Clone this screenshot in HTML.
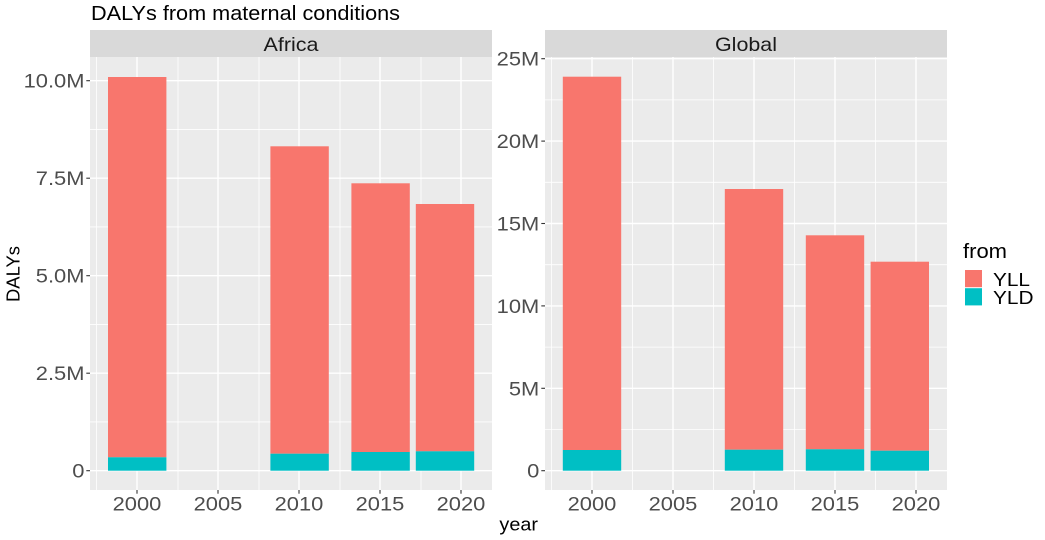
<!DOCTYPE html>
<html>
<head>
<meta charset="utf-8">
<style>
  html,body{margin:0;padding:0;background:#fff;}
  svg{display:block;}
  text{font-family:"Liberation Sans",Arial,sans-serif;}
</style>
</head>
<body>
<svg width="1045" height="540" viewBox="0 0 1045 540" xmlns="http://www.w3.org/2000/svg">
  <rect x="0" y="0" width="1045" height="540" fill="#ffffff"/>

  <!-- Title -->
  <text x="91" y="20" font-size="20" fill="#000" textLength="309" lengthAdjust="spacingAndGlyphs">DALYs from maternal conditions</text>

  <!-- ============ LEFT PANEL (Africa) ============ -->
  <rect x="90" y="30" width="402" height="27" fill="#D9D9D9"/>
  <text x="291" y="51" font-size="19.5" fill="#1A1A1A" text-anchor="middle" textLength="55" lengthAdjust="spacingAndGlyphs">Africa</text>
  <rect x="90" y="57" width="402" height="433" fill="#EBEBEB"/>
  <!-- minor grid -->
  <g stroke="#ffffff" stroke-width="0.8">
    <line x1="90" x2="492" y1="421.95" y2="421.95"/>
    <line x1="90" x2="492" y1="324.45" y2="324.45"/>
    <line x1="90" x2="492" y1="226.95" y2="226.95"/>
    <line x1="90" x2="492" y1="129.45" y2="129.45"/>
    <line x1="96.5" x2="96.5" y1="57" y2="490"/>
    <line x1="178" x2="178" y1="57" y2="490"/>
    <line x1="259" x2="259" y1="57" y2="490"/>
    <line x1="340" x2="340" y1="57" y2="490"/>
    <line x1="421" x2="421" y1="57" y2="490"/>
  </g>
  <!-- major grid -->
  <g stroke="#ffffff" stroke-width="1.4">
    <line x1="90" x2="492" y1="470.7" y2="470.7"/>
    <line x1="90" x2="492" y1="373.2" y2="373.2"/>
    <line x1="90" x2="492" y1="275.7" y2="275.7"/>
    <line x1="90" x2="492" y1="178.2" y2="178.2"/>
    <line x1="90" x2="492" y1="80.7" y2="80.7"/>
    <line x1="137" x2="137" y1="57" y2="490"/>
    <line x1="218" x2="218" y1="57" y2="490"/>
    <line x1="299" x2="299" y1="57" y2="490"/>
    <line x1="380" x2="380" y1="57" y2="490"/>
    <line x1="461" x2="461" y1="57" y2="490"/>
  </g>
  <!-- bars -->
  <g>
    <rect x="108" y="77" width="58.4" height="380.3" fill="#F8766D"/>
    <rect x="108" y="457.3" width="58.4" height="13.4" fill="#00BFC4"/>
    <rect x="270.4" y="146.3" width="58.4" height="307.4" fill="#F8766D"/>
    <rect x="270.4" y="453.7" width="58.4" height="17" fill="#00BFC4"/>
    <rect x="351.4" y="183.3" width="58.4" height="268.7" fill="#F8766D"/>
    <rect x="351.4" y="452" width="58.4" height="18.7" fill="#00BFC4"/>
    <rect x="415.8" y="204" width="58.4" height="247.3" fill="#F8766D"/>
    <rect x="415.8" y="451.3" width="58.4" height="19.4" fill="#00BFC4"/>
  </g>
  <!-- y ticks -->
  <g stroke="#333333" stroke-width="1.1">
    <line x1="86.3" x2="90" y1="470.7" y2="470.7"/>
    <line x1="86.3" x2="90" y1="373.2" y2="373.2"/>
    <line x1="86.3" x2="90" y1="275.7" y2="275.7"/>
    <line x1="86.3" x2="90" y1="178.2" y2="178.2"/>
    <line x1="86.3" x2="90" y1="80.7" y2="80.7"/>
    <line x1="137" x2="137" y1="490" y2="493.7"/>
    <line x1="218" x2="218" y1="490" y2="493.7"/>
    <line x1="299" x2="299" y1="490" y2="493.7"/>
    <line x1="380" x2="380" y1="490" y2="493.7"/>
    <line x1="461" x2="461" y1="490" y2="493.7"/>
  </g>
  <g font-size="19.5" fill="#4D4D4D" text-anchor="end">
    <text x="84.5" y="477.7" textLength="12.2" lengthAdjust="spacingAndGlyphs">0</text>
    <text x="84.5" y="380.2" textLength="48.7" lengthAdjust="spacingAndGlyphs">2.5M</text>
    <text x="84.5" y="282.7" textLength="48.7" lengthAdjust="spacingAndGlyphs">5.0M</text>
    <text x="84.5" y="185.2" textLength="48.7" lengthAdjust="spacingAndGlyphs">7.5M</text>
    <text x="84.5" y="87.7" textLength="60.9" lengthAdjust="spacingAndGlyphs">10.0M</text>
  </g>
  <g font-size="19.5" fill="#4D4D4D" text-anchor="middle">
    <text x="137" y="510.5" textLength="48.7" lengthAdjust="spacingAndGlyphs">2000</text>
    <text x="218" y="510.5" textLength="48.7" lengthAdjust="spacingAndGlyphs">2005</text>
    <text x="299" y="510.5" textLength="48.7" lengthAdjust="spacingAndGlyphs">2010</text>
    <text x="380" y="510.5" textLength="48.7" lengthAdjust="spacingAndGlyphs">2015</text>
    <text x="461" y="510.5" textLength="48.7" lengthAdjust="spacingAndGlyphs">2020</text>
  </g>

  <!-- ============ RIGHT PANEL (Global) ============ -->
  <rect x="545" y="30" width="402" height="27" fill="#D9D9D9"/>
  <text x="746" y="51" font-size="19.5" fill="#1A1A1A" text-anchor="middle" textLength="62" lengthAdjust="spacingAndGlyphs">Global</text>
  <rect x="545" y="57" width="402" height="433" fill="#EBEBEB"/>
  <g stroke="#ffffff" stroke-width="0.8">
    <line x1="545" x2="947" y1="429.5" y2="429.5"/>
    <line x1="545" x2="947" y1="347.1" y2="347.1"/>
    <line x1="545" x2="947" y1="264.7" y2="264.7"/>
    <line x1="545" x2="947" y1="182.3" y2="182.3"/>
    <line x1="545" x2="947" y1="99.9" y2="99.9"/>
    <line x1="551.5" x2="551.5" y1="57" y2="490"/>
    <line x1="632.5" x2="632.5" y1="57" y2="490"/>
    <line x1="713.5" x2="713.5" y1="57" y2="490"/>
    <line x1="794.5" x2="794.5" y1="57" y2="490"/>
    <line x1="875.5" x2="875.5" y1="57" y2="490"/>
  </g>
  <g stroke="#ffffff" stroke-width="1.4">
    <line x1="545" x2="947" y1="470.7" y2="470.7"/>
    <line x1="545" x2="947" y1="388.3" y2="388.3"/>
    <line x1="545" x2="947" y1="305.9" y2="305.9"/>
    <line x1="545" x2="947" y1="223.5" y2="223.5"/>
    <line x1="545" x2="947" y1="141.1" y2="141.1"/>
    <line x1="545" x2="947" y1="58.7" y2="58.7"/>
    <line x1="592" x2="592" y1="57" y2="490"/>
    <line x1="673" x2="673" y1="57" y2="490"/>
    <line x1="754" x2="754" y1="57" y2="490"/>
    <line x1="835" x2="835" y1="57" y2="490"/>
    <line x1="916" x2="916" y1="57" y2="490"/>
  </g>
  <g>
    <rect x="562.8" y="76.7" width="58.4" height="373.3" fill="#F8766D"/>
    <rect x="562.8" y="450" width="58.4" height="20.7" fill="#00BFC4"/>
    <rect x="724.8" y="189" width="58.4" height="260.7" fill="#F8766D"/>
    <rect x="724.8" y="449.7" width="58.4" height="21" fill="#00BFC4"/>
    <rect x="805.8" y="235.3" width="58.4" height="214" fill="#F8766D"/>
    <rect x="805.8" y="449.3" width="58.4" height="21.4" fill="#00BFC4"/>
    <rect x="870.6" y="261.7" width="58.4" height="189" fill="#F8766D"/>
    <rect x="870.6" y="450.7" width="58.4" height="20" fill="#00BFC4"/>
  </g>
  <g stroke="#333333" stroke-width="1.1">
    <line x1="541.3" x2="545" y1="470.7" y2="470.7"/>
    <line x1="541.3" x2="545" y1="388.3" y2="388.3"/>
    <line x1="541.3" x2="545" y1="305.9" y2="305.9"/>
    <line x1="541.3" x2="545" y1="223.5" y2="223.5"/>
    <line x1="541.3" x2="545" y1="141.1" y2="141.1"/>
    <line x1="541.3" x2="545" y1="58.7" y2="58.7"/>
    <line x1="592" x2="592" y1="490" y2="493.7"/>
    <line x1="673" x2="673" y1="490" y2="493.7"/>
    <line x1="754" x2="754" y1="490" y2="493.7"/>
    <line x1="835" x2="835" y1="490" y2="493.7"/>
    <line x1="916" x2="916" y1="490" y2="493.7"/>
  </g>
  <g font-size="19.5" fill="#4D4D4D" text-anchor="end">
    <text x="539.3" y="477.7" textLength="12.2" lengthAdjust="spacingAndGlyphs">0</text>
    <text x="539.3" y="395.3" textLength="30.4" lengthAdjust="spacingAndGlyphs">5M</text>
    <text x="539.3" y="312.9" textLength="42.6" lengthAdjust="spacingAndGlyphs">10M</text>
    <text x="539.3" y="230.5" textLength="42.6" lengthAdjust="spacingAndGlyphs">15M</text>
    <text x="539.3" y="148.1" textLength="42.6" lengthAdjust="spacingAndGlyphs">20M</text>
    <text x="539.3" y="65.7" textLength="42.6" lengthAdjust="spacingAndGlyphs">25M</text>
  </g>
  <g font-size="19.5" fill="#4D4D4D" text-anchor="middle">
    <text x="592" y="510.5" textLength="48.7" lengthAdjust="spacingAndGlyphs">2000</text>
    <text x="673" y="510.5" textLength="48.7" lengthAdjust="spacingAndGlyphs">2005</text>
    <text x="754" y="510.5" textLength="48.7" lengthAdjust="spacingAndGlyphs">2010</text>
    <text x="835" y="510.5" textLength="48.7" lengthAdjust="spacingAndGlyphs">2015</text>
    <text x="916" y="510.5" textLength="48.7" lengthAdjust="spacingAndGlyphs">2020</text>
  </g>

  <!-- Axis titles -->
  <text x="518.7" y="530.7" font-size="18.5" fill="#000" text-anchor="middle" textLength="38.5" lengthAdjust="spacingAndGlyphs">year</text>
  <text transform="translate(19.6,274) rotate(-90)" x="0" y="0" font-size="18" fill="#000" text-anchor="middle" textLength="56" lengthAdjust="spacingAndGlyphs">DALYs</text>

  <!-- Legend -->
  <text x="963" y="258" font-size="20" fill="#000" textLength="44" lengthAdjust="spacingAndGlyphs">from</text>
  <rect x="965" y="270" width="17" height="17.2" fill="#F8766D"/>
  <rect x="965" y="288.2" width="17" height="17.2" fill="#00BFC4"/>
  <text x="993" y="286" font-size="18" fill="#000" textLength="37" lengthAdjust="spacingAndGlyphs">YLL</text>
  <text x="993" y="304" font-size="18" fill="#000" textLength="40.5" lengthAdjust="spacingAndGlyphs">YLD</text>
</svg>
</body>
</html>
